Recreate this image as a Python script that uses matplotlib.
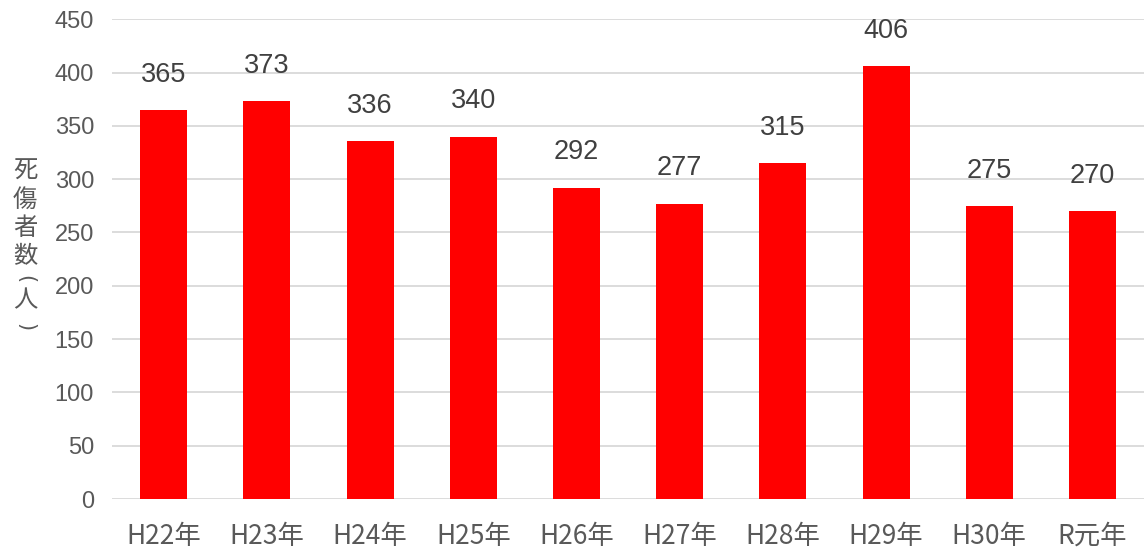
import numpy as np
import matplotlib.pyplot as plt

plt.rcParams['font.family'] = ['Liberation Sans', 'Noto Sans CJK JP', 'DejaVu Sans']

years = ["H22年", "H23年", "H24年", "H25年", "H26年", "H27年", "H28年", "H29年", "H30年", "R元年"]
casualties = [365, 373, 336, 340, 292, 277, 315, 406, 275, 270]

fig = plt.figure(figsize=(11.44, 5.49), dpi=100)
ax = fig.add_axes([0.098, 0.091, 0.902, 0.874])

x = np.arange(len(years))
bars = ax.bar(x, casualties, width=0.455, color='#ff0000', zorder=3)

for xi, v in zip(x, casualties):
    ax.annotate(str(v), (xi, v), xytext=(0, 16), textcoords='offset points',
                ha='center', va='bottom', fontsize=19.5, color='#404040')

ax.set_xlim(-0.5, len(years) - 0.5)
ax.set_ylim(0, 450)
ax.set_yticks(np.arange(0, 451, 50))
ax.set_xticks(x)
ax.set_xticklabels(years, fontsize=19, color='#595959', family=['Noto Sans CJK JP'])
ax.tick_params(axis='y', labelsize=17, labelcolor='#595959', length=0, pad=13)
ax.tick_params(axis='x', length=0, pad=17)
ax.grid(axis='y', color='#d9d9d9', linewidth=1.3, zorder=0)
for s in ['top', 'right', 'left', 'bottom']:
    ax.spines[s].set_visible(False)

# vertical y-axis title, one character per cell; brackets turned sideways
ylabel_chars = ["死", "傷", "者", "数", "(", "人", ")"]
ylabel_rows = [171, 200, 228, 256, 279, 300, 327]
for ch, row in zip(ylabel_chars, ylabel_rows):
    if ch in "()":
        fig.text(25 / 1144, 1 - row / 549, ch, ha='center', va='center', rotation=-90,
                 fontsize=15, color='#595959', family=['DejaVu Sans'])
    else:
        fig.text(25 / 1144, 1 - row / 549, ch, ha='center', va='center',
                 fontsize=17.5, color='#595959', family=['Noto Sans CJK JP'])

plt.savefig("out.png")
